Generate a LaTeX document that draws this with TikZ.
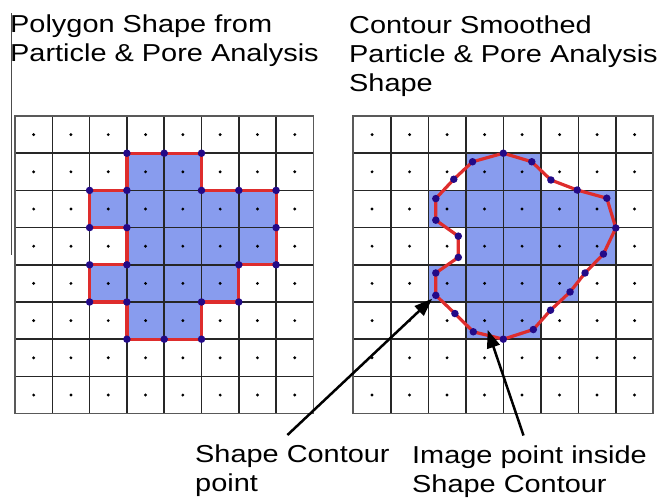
\documentclass[tikz,border=0pt]{standalone}
\usepackage{fontspec}
\setmainfont{Liberation Sans}[FakeStretch=1.18]
\usepackage{tikz}
\usetikzlibrary{arrows.meta, calc}
\usepackage{xcolor}
\definecolor{cellblue}{RGB}{136,156,238}
\definecolor{edgered}{RGB}{222,45,45}
\definecolor{ptnavy}{RGB}{35,10,135}

\begin{document}
\begin{tikzpicture}[
    x=1pt, y=-1pt,
    title/.style={anchor=north west, align=left, inner sep=0pt, font=\fontsize{24.5}{29}\selectfont},
    gridline/.style={line width=1.5pt, black!85},
    border/.style={line width=1.7pt, gray!70!black},
    cell/.style={fill=cellblue},
    outline/.style={line width=3.2pt, edgered, line join=round},
    vtx/.style={circle, fill=ptnavy, inner sep=0pt, minimum size=7.5pt},
    pixel/.style={circle, fill=black, inner sep=0pt, minimum size=3.2pt},
    pointer/.style={-{Triangle[length=18pt,width=13pt]}, line width=2.5pt}
]
    \useasboundingbox (0,0) rectangle (659,498);

    % Titel links / rechts
    \node[title] (ttlL) at (10,14.5) {Polygon Shape from\\Particle \& Pore Analysis};
    \node[title] (ttlR) at (349,15.5) {Contour Smoothed\\Particle \& Pore Analysis\\Shape};
    \draw[gray!60!black, line width=1.4pt] (11.5,13) -- (11.5,255);

    % Raster links: Polygon
    \begin{scope}[shift={(15,116)}, x=37.3pt, y=-37.2pt]
        \foreach \c/\r in {3/1,4/1, 2/2,3/2,4/2,5/2,6/2, 3/3,4/3,5/3,6/3, 2/4,3/4,4/4,5/4, 3/5,4/5}
            \fill[cell] (\c,\r) rectangle ++(1,1);
        \foreach \i in {1,...,7} {
            \draw[gridline] (\i,0) -- (\i,8);
            \draw[gridline] (0,\i) -- (8,\i);
        }
        \draw[border] (0,0) rectangle (8,8);
        \foreach \c in {0,...,7}
            \foreach \r in {0,...,7}
                \node[pixel] (L-\c-\r) at (\c+0.5,\r+0.5) {};
        \draw[outline] (3,1) -- (5,1) -- (5,2) -- (7,2) -- (7,4) -- (6,4) -- (6,5) -- (5,5)
            -- (5,6) -- (3,6) -- (3,5) -- (2,5) -- (2,4) -- (3,4) -- (3,3) -- (2,3) -- (2,2) -- (3,2) -- cycle;
        \foreach \p [count=\k] in {(3,1),(4,1),(5,1),(2,2),(3,2),(5,2),(6,2),(7,2),(2,3),(3,3),(7,3),
                                   (2,4),(3,4),(6,4),(7,4),(2,5),(3,5),(5,5),(6,5),(3,6),(4,6),(5,6)}
            \node[vtx] (lv\k) at \p {};
    \end{scope}

    % Raster rechts: geglaettete Kontur
    \begin{scope}[shift={(353.3,116)}, x=37.5pt, y=-37.2pt]
        \foreach \c/\r in {3/1,4/1, 2/2,3/2,4/2,5/2,6/2, 3/3,4/3,5/3,6/3, 2/4,3/4,4/4,5/4, 3/5,4/5}
            \fill[cell] (\c,\r) rectangle ++(1,1);
        \foreach \i in {1,...,7} {
            \draw[gridline] (\i,0) -- (\i,8);
            \draw[gridline] (0,\i) -- (8,\i);
        }
        \draw[border] (0,0) rectangle (8,8);
        \foreach \c in {0,...,7}
            \foreach \r in {0,...,7}
                \node[pixel] (R-\c-\r) at (\c+0.5,\r+0.5) {};
        \draw[outline] (4,1) -- (4.76,1.23) -- (5.27,1.72) -- (5.97,1.99) -- (6.76,2.21) -- (7,3.01)
            -- (6.67,3.71) -- (6.18,4.22) -- (5.78,4.73) -- (5.26,5.22) -- (4.8,5.74) -- (4,6)
            -- (3.2,5.8) -- (2.71,5.31) -- (2.2,4.82) -- (2.2,4.22) -- (2.8,3.8) -- (2.8,3.23)
            -- (2.2,2.8) -- (2.2,2.22) -- (2.68,1.7) -- (3.18,1.23) -- cycle;
        \foreach \p [count=\k] in {(4,1),(4.76,1.23),(5.27,1.72),(5.97,1.99),(6.76,2.21),(7,3.01),
                                   (6.67,3.71),(6.18,4.22),(5.78,4.73),(5.26,5.22),(4.8,5.74),(4,6),
                                   (3.2,5.8),(2.71,5.31),(2.2,4.82),(2.2,4.22),(2.8,3.8),(2.8,3.23),
                                   (2.2,2.8),(2.2,2.22),(2.68,1.7),(3.18,1.23)}
            \node[vtx] (rv\k) at \p {};
    \end{scope}

    % Beschriftungen unten mit Pfeilen
    \node[title] (lblA) at (195,445) {Shape Contour\\point};
    \node[title] (lblB) at (412,445.5) {Image point inside\\Shape Contour};
    \draw[pointer, shorten >=1pt] ([xshift=-5pt,yshift=10pt]lblA.north) -- (rv15);
    \draw[pointer, shorten >=8pt] ([xshift=-6pt,yshift=10pt]lblB.north) -- (R-3-5);
\end{tikzpicture}
\end{document}
